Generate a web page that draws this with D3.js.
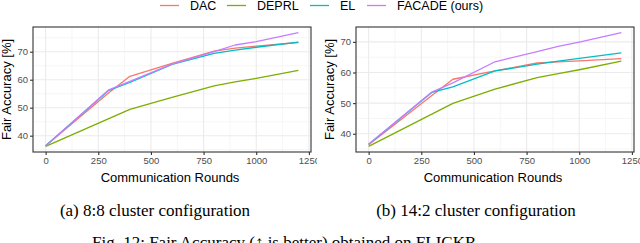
<!DOCTYPE html>
<html>
<head>
<meta charset="utf-8">
<script src="https://cdn.jsdelivr.net/npm/d3@7"></script>
<style>
  body { margin: 0; background: #fff; }
  svg { display: block; }
</style>
</head>
<body>
<svg id="fig" width="640" height="243"></svg>
<script>
// communication rounds at which the curves were sampled
var rounds = [0, 300, 400, 600, 800, 900, 1000, 1200];
var methods = ["DAC", "DEPRL", "EL", "FACADE (ours)"];
var colors = ["#F8766D", "#7CAE00", "#00BFC4", "#C77CFF"];
var xTicks = [0, 250, 500, 750, 1000, 1250];
var yTicks = [40, 50, 60, 70];

// (a) 8:8 cluster configuration
var dac88    = [36.4, 55.3, 61.2, 65.8, 70.2, 71.3, 72.0, 73.3];
var deprl88  = [36.2, 46.1, 49.4, 53.7, 57.8, 59.2, 60.5, 63.3];
var el88     = [36.4, 56.2, 59.0, 65.5, 69.4, 70.6, 71.6, 73.4];
var facade88 = [36.3, 56.4, 59.4, 65.6, 70.0, 72.4, 73.6, 76.8];

// (b) 14:2 cluster configuration
var dac142    = [36.4, 52.5, 57.8, 60.5, 63.1, 63.5, 63.8, 64.5];
var deprl142  = [35.9, 46.4, 49.9, 54.6, 58.3, 59.6, 60.9, 63.7];
var el142     = [36.6, 53.5, 55.3, 60.5, 62.7, 63.7, 64.6, 66.4];
var facade142 = [36.6, 53.6, 56.6, 63.5, 66.8, 68.5, 69.9, 73.0];

var svg = d3.select("#fig");

function drawPanel(id, left, clipW, series, caption){
    let g = svg.append("g");
    svg.append("clipPath").attr("id", "clip" + id)
        .append("rect").attr("x", left - 33).attr("y", 0).attr("width", clipW).attr("height", 243);
    g.attr("clip-path", "url(#clip" + id + ")");

    let x0 = left, x1 = left + 278, y0 = 27, y1 = 152;

    // ggplot style 5% expansion
    let xScale = d3.scaleLinear().domain([-60, 1260]).range([x0, x1]);
    let all = [].concat.apply([], series);
    let lo = d3.min(all), hi = d3.max(all), pad = (hi - lo) * 0.05;
    let yScale = d3.scaleLinear().domain([lo - pad, hi + pad]).range([y1, y0]);

    // minor grid
    let xMinor = [125, 375, 625, 875, 1125];
    let yMinor = d3.range(35, 80, 10).filter(function(v){ return v > lo - pad && v < hi + pad; });
    g.selectAll(".xminor").data(xMinor).enter().append("line")
        .attr("x1", d => xScale(d)).attr("x2", d => xScale(d))
        .attr("y1", y0).attr("y2", y1)
        .attr("stroke", "#F2F2F2").attr("stroke-width", 0.7);
    g.selectAll(".yminor").data(yMinor).enter().append("line")
        .attr("x1", x0).attr("x2", x1)
        .attr("y1", d => yScale(d)).attr("y2", d => yScale(d))
        .attr("stroke", "#F2F2F2").attr("stroke-width", 0.7);
    // major grid
    g.selectAll(".xmajor").data(xTicks).enter().append("line")
        .attr("x1", d => xScale(d)).attr("x2", d => xScale(d))
        .attr("y1", y0).attr("y2", y1)
        .attr("stroke", "#EBEBEB").attr("stroke-width", 1.1);
    g.selectAll(".ymajor").data(yTicks).enter().append("line")
        .attr("x1", x0).attr("x2", x1)
        .attr("y1", d => yScale(d)).attr("y2", d => yScale(d))
        .attr("stroke", "#EBEBEB").attr("stroke-width", 1.1);

    // lines
    let line = d3.line().x((d, i) => xScale(rounds[i])).y(d => yScale(d));
    series.forEach(function(s, k){
        g.append("path").datum(s)
            .attr("d", line)
            .attr("fill", "none")
            .attr("stroke", colors[k])
            .attr("stroke-width", 1.3)
            .attr("stroke-linejoin", "round");
    });

    // border
    g.append("rect").attr("x", x0).attr("y", y0)
        .attr("width", x1 - x0).attr("height", y1 - y0)
        .attr("fill", "none").attr("stroke", "#333333").attr("stroke-width", 1.1);

    // axes
    let xAxis = d3.axisBottom(xScale).tickValues(xTicks).tickFormat(d3.format("d")).tickSize(3).tickPadding(2);
    let xa = g.append("g").attr("transform", "translate(0," + y1 + ")").call(xAxis);
    let yAxis = d3.axisLeft(yScale).tickValues(yTicks).tickSize(3).tickPadding(2);
    let ya = g.append("g").attr("transform", "translate(" + x0 + ",0)").call(yAxis);
    [xa, ya].forEach(function(a){
        a.select(".domain").remove();
        a.selectAll(".tick line").attr("stroke", "#333333").attr("stroke-width", 1.1);
        a.selectAll(".tick text").attr("fill", "#4D4D4D")
            .style("font-family", "Liberation Sans, Arial, sans-serif").style("font-size", "9.5px");
    });

    g.append("text")
        .attr("x", (x0 + x1) / 2 - 2).attr("y", 181.5)
        .attr("text-anchor", "middle")
        .style("font-family", "Liberation Sans, Arial, sans-serif").style("font-size", "13px")
        .text("Communication Rounds");
    g.append("text")
        .attr("transform", "translate(" + (x0 - 22) + "," + ((y0 + y1) / 2) + ") rotate(-90)")
        .attr("text-anchor", "middle")
        .style("font-family", "Liberation Sans, Arial, sans-serif").style("font-size", "13px")
        .text("Fair Accuracy [%]");

    svg.append("text")
        .attr("x", caption.cx).attr("y", 216)
        .attr("text-anchor", "middle")
        .style("font-family", "Liberation Serif, Times New Roman, serif").style("font-size", "17px")
        .text(caption.text);
}

drawPanel("a", 33, 317, [dac88, deprl88, el88, facade88], {cx: 155, text: "(a) 8:8 cluster configuration"});
drawPanel("b", 356, 320, [dac142, deprl142, el142, facade142], {cx: 476, text: "(b) 14:2 cluster configuration"});

// legend
var legX = [160, 227, 310, 367];
var leg = svg.append("g");
methods.forEach(function(m, k){
    leg.append("line")
        .attr("x1", legX[k]).attr("x2", legX[k] + 19)
        .attr("y1", 5.5).attr("y2", 5.5)
        .attr("stroke", colors[k]).attr("stroke-width", 1.3);
    leg.append("text")
        .attr("x", legX[k] + 30).attr("y", 10.2)
        .style("font-family", "Liberation Sans, Arial, sans-serif").style("font-size", "12.5px")
        .text(m);
});

// figure caption (cut by the bottom edge)
svg.append("text")
    .attr("x", 92).attr("y", 248)
    .style("font-family", "Liberation Serif, Times New Roman, serif").style("font-size", "17px")
    .text("Fig. 12: Fair Accuracy (\u2191 is better) obtained on FLICKR.");
</script>
</body>
</html>
